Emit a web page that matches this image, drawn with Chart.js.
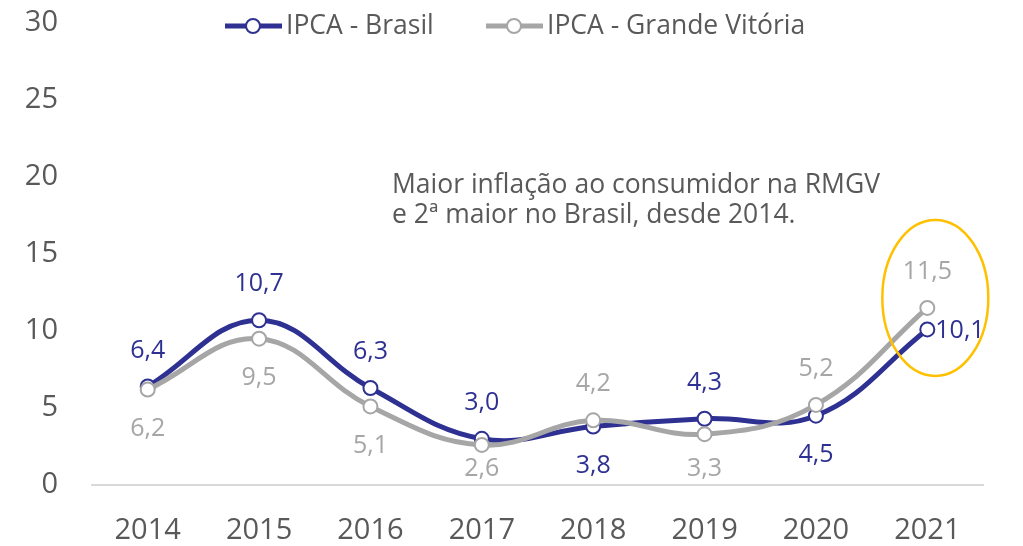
<html lang="pt">
<head>
  <meta charset="UTF-8">
  <title>IPCA</title>
  <script src="https://cdn.jsdelivr.net/npm/chart.js@4.4.1/dist/chart.umd.min.js"></script>
  <style>
    html, body { margin: 0; padding: 0; background: #fff; }
    #wrap { position: relative; width: 1023px; height: 546px; }
  </style>
</head>
<body>
  <div id="wrap"><canvas id="chart" width="1023" height="546"></canvas></div>

  <script>
    var anos = ['2014', '2015', '2016', '2017', '2018', '2019', '2020', '2021'];
    var ipcaBrasil = [6.4, 10.7, 6.3, 3.0, 3.8, 4.3, 4.5, 10.1];
    var ipcaVitoria = [6.2, 9.5, 5.1, 2.6, 4.2, 3.3, 5.2, 11.5];
    var yTicks = [0, 5, 10, 15, 20, 25, 30];
    var nota = ['Maior inflação ao consumidor na RMGV', 'e 2ª maior no Brasil, desde 2014.'];

    var AZUL = '#2e3192', CINZA = '#a6a6a6', TEXTO = '#595959';
    var FONTE = '"Open Sans", "Noto Sans", sans-serif';

    function fmt(v){ return v.toFixed(1).replace('.', ','); }

    // rótulos de dados: série mais alta em cima, mais baixa embaixo, último ponto da baixa à direita
    var rotulos = {
      id: 'rotulos',
      afterDatasetsDraw: function(chart){
        var ctx = chart.ctx, sets = chart.data.datasets;
        var fundo = chart.chartArea.bottom - 16;
        ctx.save();
        ctx.font = '25px ' + FONTE;
        ctx.textBaseline = 'middle';
        sets.forEach(function(ds, i){
          var outro = sets[1 - i].data;
          var meta = chart.getDatasetMeta(i);
          meta.data.forEach(function(pt, j){
            var v = ds.data[j], acima = v >= outro[j];
            ctx.fillStyle = ds.borderColor;
            if (!acima && j === ds.data.length - 1) {
              ctx.textAlign = 'left';
              ctx.fillText(fmt(v), pt.x + 8, pt.y + 1);
            } else {
              ctx.textAlign = 'center';
              ctx.fillText(fmt(v), pt.x, acima ? pt.y - 36 : Math.min(pt.y + 39, fundo));
            }
          });
        });
        ctx.restore();
      }
    };

    // legenda com linha + marcador, destaque em 2021 e nota
    var extras = {
      id: 'extras',
      afterDraw: function(chart){
        var ctx = chart.ctx, sets = chart.data.datasets;
        var xs = chart.scales.x, ys = chart.scales.y;
        ctx.save();

        ctx.font = '26.5px ' + FONTE;
        ctx.textBaseline = 'middle';
        ctx.textAlign = 'left';
        var lx = [225, 486];
        [1, 0].forEach(function(i, k){
          var ds = sets[i], x0 = lx[k], y0 = 26;
          ctx.strokeStyle = ds.borderColor;
          ctx.lineWidth = 5;
          ctx.beginPath(); ctx.moveTo(x0, y0); ctx.lineTo(x0 + 57, y0); ctx.stroke();
          ctx.fillStyle = '#fff';
          ctx.lineWidth = 2;
          ctx.beginPath(); ctx.arc(x0 + 28, y0, 7, 0, Math.PI * 2); ctx.fill(); ctx.stroke();
          ctx.fillStyle = TEXTO;
          ctx.fillText(ds.label, x0 + 61, y0);
        });

        ctx.font = '26.5px ' + FONTE;
        ctx.fillStyle = TEXTO;
        ctx.fillText(nota[0], 392, 185);
        ctx.fillText(nota[1], 392, 215);

        var n = anos.length - 1;
        var cx = xs.getPixelForValue(n) + 8;
        var cy = ys.getPixelForValue(Math.max(ipcaBrasil[n], ipcaVitoria[n])) - 10;
        ctx.strokeStyle = '#ffc000';
        ctx.lineWidth = 2.5;
        ctx.beginPath(); ctx.ellipse(cx, cy, 53, 78, 0, 0, Math.PI * 2); ctx.stroke();
        ctx.restore();
      }
    };

    new Chart(document.getElementById('chart'), {
      type: 'line',
      data: {
        labels: anos,
        datasets: [
          {
            label: 'IPCA - Grande Vitória', data: ipcaVitoria, order: 0,
            borderColor: CINZA, backgroundColor: CINZA
          },
          {
            label: 'IPCA - Brasil', data: ipcaBrasil, order: 1,
            borderColor: AZUL, backgroundColor: AZUL
          }
        ].map(function(d){
          d.borderWidth = 5;
          d.tension = 0.4;
          d.pointRadius = 7;
          d.pointBorderWidth = 2;
          d.pointBackgroundColor = '#fff';
          d.pointBorderColor = d.borderColor;
          d.fill = false;
          return d;
        })
      },
      options: {
        responsive: false,
        animation: false,
        layout: { padding: { top: 23, right: 40, bottom: 0, left: 0 } },
        plugins: { legend: { display: false }, tooltip: { enabled: false } },
        scales: {
          x: {
            offset: true,
            grid: { display: false, drawTicks: false },
            border: { display: true, color: '#d9d9d9', width: 2 },
            ticks: { color: TEXTO, font: { family: FONTE, size: 29 }, padding: 28 },
            afterFit: function(s){ s.height = 61; s.paddingLeft = 0; s.paddingRight = 0; }
          },
          y: {
            min: 0, max: 30,
            grid: { display: false, drawTicks: false },
            border: { display: false },
            afterBuildTicks: function(s){ s.ticks = yTicks.map(function(v){ return { value: v }; }); },
            ticks: { color: TEXTO, font: { family: FONTE, size: 29 }, padding: 34 },
            afterFit: function(s){ s.width = 92; s.paddingTop = 0; s.paddingBottom = 0; }
          }
        }
      },
      plugins: [rotulos, extras]
    });
  </script>
</body>
</html>
